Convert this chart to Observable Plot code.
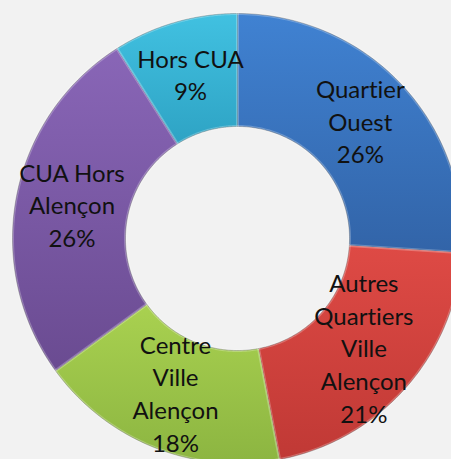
<!DOCTYPE html>
<html>
<head>
<meta charset="utf-8">
<script src="https://cdn.jsdelivr.net/npm/d3@7"></script>
<script src="https://cdn.jsdelivr.net/npm/@observablehq/plot@0.6"></script>
<style>
  html, body { margin: 0; padding: 0; background: #f2f2f2; }
  #chart svg { display: block; background: #f2f2f2; }
  #chart text { font-variant-ligatures: none; font-feature-settings: "liga" 0, "clig" 0; }
</style>
</head>
<body>
<div id="chart"></div>
<script>
// Data
const categories = ["Quartier Ouest", "Autres Quartiers Ville Alençon", "Centre Ville Alençon", "CUA Hors Alençon", "Hors CUA"];
const labels = ["Quartier\nOuest", "Autres\nQuartiers\nVille\nAlençon", "Centre\nVille\nAlençon", "CUA Hors\nAlençon", "Hors CUA"];
const values = [26, 21, 18, 26, 9];

// Palette (top colour, bottom colour)
const paletteTop = ["#4082d2", "#de4a45", "#a9d150", "#8966b7", "#41c1e1"];
const paletteBottom = ["#3264a8", "#c03935", "#8cb541", "#6a4b91", "#2ea3c4"];

const W = 451, H = 459;
const cx = 237, cy = 238, R = 225, r0 = 112;

const pie = d3.pie().sort(null).value(d => d)(values);

const ring = [];
const centroids = [];
pie.forEach((p, i) => {
  const n = 80;
  for (let k = 0; k <= n; k++) {
    const a = p.startAngle + (p.endAngle - p.startAngle) * k / n;
    ring.push({slice: categories[i], x: Math.sin(a), y: Math.cos(a), fill: `url(#g${i})`});
  }
  for (let k = n; k >= 0; k--) {
    const a = p.startAngle + (p.endAngle - p.startAngle) * k / n;
    ring.push({slice: categories[i], x: (r0 / R) * Math.sin(a), y: (r0 / R) * Math.cos(a), fill: `url(#g${i})`});
  }
  const m = (p.startAngle + p.endAngle) / 2;
  const rm = (1 + r0 / R) / 2;
  centroids.push({label: labels[i] + "\n" + values[i] + "%", x: rm * Math.sin(m), y: rm * Math.cos(m)});
});

const defs = () => {
  const d = d3.create("svg:defs");
  paletteTop.forEach((c, i) => {
    const g = d.append("linearGradient").attr("id", `g${i}`).attr("x1", 0).attr("y1", 0).attr("x2", 0).attr("y2", 1);
    g.append("stop").attr("offset", "0%").attr("stop-color", c);
    g.append("stop").attr("offset", "100%").attr("stop-color", paletteBottom[i]);
  });
  return d.node();
};

const chart = Plot.plot({
  width: W,
  height: H,
  margin: 0,
  style: {background: "#f2f2f2"},
  x: {domain: [-cx / R, (W - cx) / R], axis: null},
  y: {domain: [-(H - cy) / R, cy / R], axis: null},
  color: {type: "identity"},
  marks: [
    defs,
    Plot.line(ring, {x: "x", y: "y", z: "slice", fill: "fill", stroke: "rgba(0,0,0,0.3)", strokeWidth: 1, curve: "linear"}),
    Plot.line(ring, {x: "x", y: "y", z: "slice", stroke: "rgba(255,255,255,0.25)", strokeWidth: 3, curve: "linear", fill: "none", strokeLinejoin: "round"}),
    Plot.text(centroids, {x: "x", y: "y", dy: -3, text: "label", fill: "#111", fontSize: 24, lineHeight: 1.36, fontFamily: "Lato", textAnchor: "middle"})
  ]
});
document.getElementById("chart").appendChild(chart);
</script>
</body>
</html>
